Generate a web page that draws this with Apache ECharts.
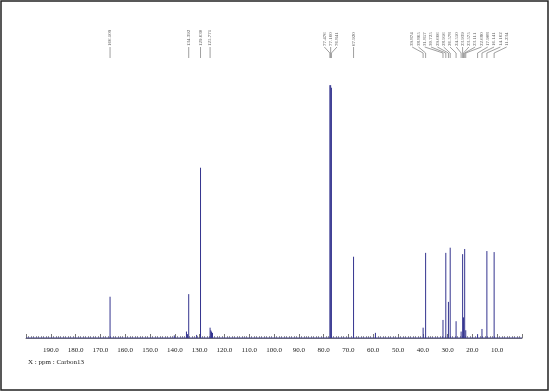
<!DOCTYPE html>
<html>
<head>
<meta charset="utf-8">
<script src="https://cdn.jsdelivr.net/npm/echarts@6/dist/echarts.min.js"></script>
<style>
  html, body { margin: 0; padding: 0; background: #fff; }
  #main { width: 550px; height: 392px; }
</style>
</head>
<body>
<div id="main"></div>
<script>
// ppm range of the ruler
const xMin = 0;
const xMax = 200;
const xLabelText = 'X : ppm : Carbon13';

// picked peaks (shown with labels on top)
const peakPpm = [166.109, 134.392, 129.630, 125.771,
  77.476, 77.160, 76.841, 67.920,
  39.874, 38.865, 31.857, 30.725, 29.666, 28.956, 26.578, 24.550,
  23.939, 23.575, 23.111, 22.680, 17.908, 16.141, 14.162, 11.234];
const peakHeight = [16, 17, 66, 4,
  98, 98, 97, 31.5,
  4, 33, 7, 33, 14, 35, 6.5, 2.5,
  32.5, 8, 34.5, 3, 1.5, 3.5, 33.7, 33.3];

// small unpicked peaks
const minorPpm = [140.2, 135.3, 134.9, 131.2, 125.5, 125.2, 124.8, 59.1];
const minorHeight = [1, 2.5, 1.5, 1.2, 3, 2.5, 2, 2];

const specColor = '#34348f';

let chart = echarts.init(document.getElementById('main'));

let sticks = peakPpm.map((p, i) => [p, peakHeight[i]])
  .concat(minorPpm.map((p, i) => [p, minorHeight[i]]));

let option = {
  animation: false,
  grid: { left: 26, right: 28, top: 80, bottom: 54 },
  xAxis: {
    type: 'value',
    inverse: true,
    min: xMin,
    max: xMax,
    interval: 10,
    offset: 6,
    splitLine: { show: false },
    axisLine: { lineStyle: { color: '#777', width: 1 } },
    axisTick: { inside: true, length: 4, lineStyle: { color: '#777' } },
    minorTick: { show: true, splitNumber: 10, length: 2, lineStyle: { color: '#999' } },
    axisLabel: {
      fontSize: 7,
      fontFamily: 'Liberation Serif',
      color: '#222',
      margin: 3,
      showMinLabel: false,
      showMaxLabel: false,
      formatter: v => v.toFixed(1)
    }
  },
  yAxis: { type: 'value', min: 0, max: 100, show: false },
  series: [
    {
      type: 'line',
      symbol: 'none',
      silent: true,
      lineStyle: { color: specColor, width: 1 },
      data: [[xMax, 0], [xMin, 0]]
    },
    {
      type: 'custom',
      silent: true,
      data: sticks,
      renderItem: function (params, api) {
        let a = api.coord([api.value(0), 0]);
        let b = api.coord([api.value(0), api.value(1)]);
        return {
          type: 'line',
          shape: { x1: a[0], y1: a[1], x2: b[0], y2: b[1] },
          style: { stroke: specColor, lineWidth: 1 }
        };
      }
    }
  ]
};
chart.setOption(option);

// spread the peak labels so they do not overlap
let gap = 6.3;
let items = peakPpm.map((p, i) => ({ px: chart.convertToPixel({ xAxisIndex: 0 }, p), text: p.toFixed(3) }))
  .sort((a, b) => a.px - b.px);
let groups = items.map(it => [it]);
let merged = true;
function groupStart(g) {
  let m = g.reduce((s, it) => s + it.px, 0) / g.length;
  return m - (g.length - 1) * gap / 2;
}
while (merged) {
  merged = false;
  for (let i = 0; i < groups.length - 1; i++) {
    let end = groupStart(groups[i]) + (groups[i].length - 1) * gap;
    if (end + gap > groupStart(groups[i + 1])) {
      groups.splice(i, 2, groups[i].concat(groups[i + 1]));
      merged = true;
      break;
    }
  }
}

let graphics = [
  {
    type: 'rect',
    shape: { x: 1, y: 1, width: 547, height: 389 },
    style: { fill: 'none', stroke: '#222', lineWidth: 1.5 }
  },
  {
    type: 'text',
    x: 28, y: 362,
    style: { text: xLabelText, fontSize: 7, fontFamily: 'Liberation Serif', fill: '#222', verticalAlign: 'middle' }
  }
];
groups.forEach(g => {
  let s = groupStart(g);
  g.forEach((it, k) => {
    let lx = s + k * gap;
    graphics.push({
      type: 'text',
      x: lx, y: 46,
      rotation: Math.PI / 2,
      style: { text: it.text, fontSize: 5, fontFamily: 'Liberation Serif', fill: '#555', align: 'left', verticalAlign: 'middle' }
    });
    graphics.push({
      type: 'polyline',
      shape: { points: [[lx, 47], [it.px, 53], [it.px, 58]] },
      style: { stroke: '#888', lineWidth: 0.8, fill: 'none' }
    });
  });
});
chart.setOption({ graphic: graphics });
</script>
</body>
</html>
